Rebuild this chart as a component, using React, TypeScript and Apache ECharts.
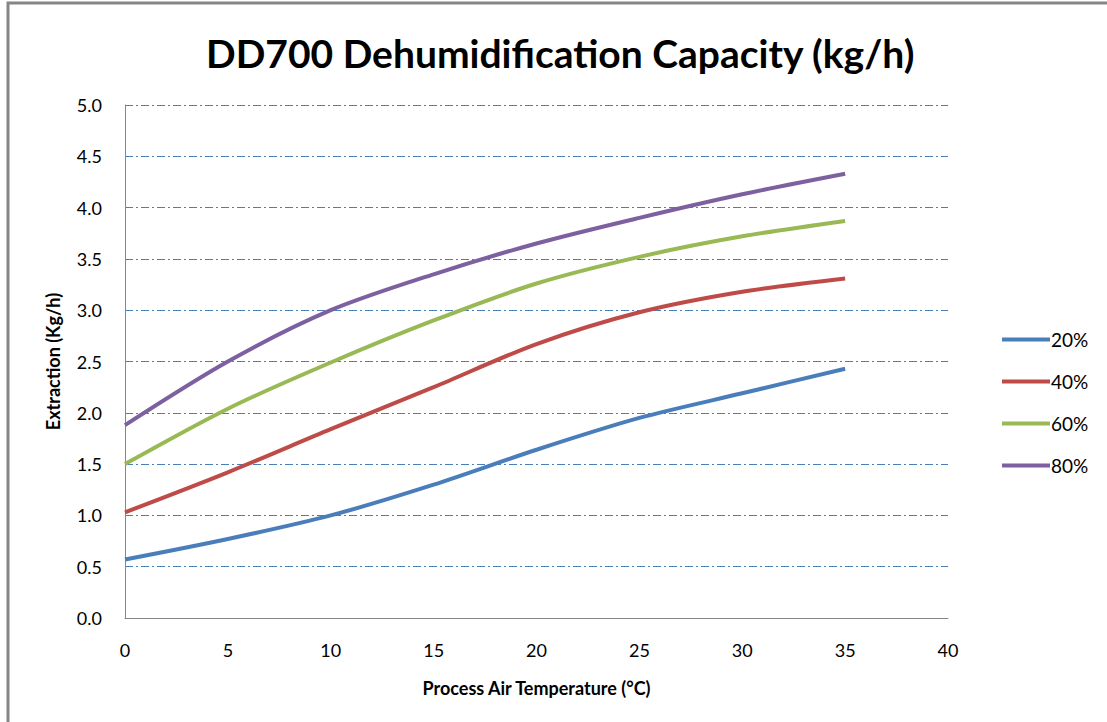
import React, { useEffect, useRef } from "react";
import * as echarts from "echarts";

const temps = [0, 5, 10, 15, 20, 25, 30, 35];
const rh20 = [0.57, 0.77, 1.0, 1.3, 1.64, 1.95, 2.19, 2.43];
const rh40 = [1.03, 1.42, 1.84, 2.25, 2.67, 2.98, 3.18, 3.31];
const rh60 = [1.5, 2.04, 2.49, 2.9, 3.26, 3.52, 3.72, 3.87];
const rh80 = [1.88, 2.5, 3.0, 3.35, 3.65, 3.9, 4.13, 4.33];
const seriesNames = ["20%", "40%", "60%", "80%"];
const colors = ["#4a7ebb", "#be4b48", "#98b954", "#7d60a0"];

const FONT = "Lato, 'Open Sans', sans-serif";

export default function App() {
  const ref = useRef<HTMLDivElement>(null);
  useEffect(() => {
    if (!ref.current) return;
    const chart = echarts.init(ref.current, null, { renderer: "svg" });
    const all = [rh20, rh40, rh60, rh80];
    chart.setOption({
      animation: false,
      backgroundColor: "#ffffff",
      title: {
        text: "DD700 Dehumidification Capacity (kg/h)",
        left: 201,
        top: 28,
        textStyle: { fontFamily: FONT, fontSize: 39, fontWeight: "bold", color: "#000" },
      },
      legend: {
        orient: "vertical",
        left: 997,
        top: 325,
        itemGap: 23,
        itemWidth: 48,
        itemHeight: 4,
        icon: "rect",
        data: seriesNames,
        textStyle: { fontFamily: FONT, fontSize: 19, color: "#000", padding: [0, 0, 0, -4] },
      },
      grid: { left: 125, right: 159, top: 105, bottom: 104, containLabel: false },
      xAxis: {
        type: "value",
        min: 0,
        max: 40,
        interval: 5,
        name: "Process Air Temperature (°C)",
        nameLocation: "middle",
        nameGap: 61,
        nameTextStyle: { fontFamily: FONT, fontSize: 18, fontWeight: "bold", color: "#000" },
        axisLine: { show: true, lineStyle: { color: "#868686", width: 1 } },
        axisTick: { show: false },
        splitLine: { show: false },
        axisLabel: { margin: 23, fontFamily: FONT, fontSize: 18, color: "#000" },
      },
      yAxis: {
        type: "value",
        min: 0,
        max: 5,
        interval: 0.5,
        name: "Extraction (Kg/h)",
        nameLocation: "middle",
        nameGap: 63,
        nameTextStyle: { fontFamily: FONT, fontSize: 18, fontWeight: "bold", color: "#000" },
        axisLine: { show: true, lineStyle: { color: "#868686", width: 1 } },
        axisTick: { show: false },
        splitLine: { show: true, lineStyle: { color: "#4a7ebb", width: 1, type: [8, 3, 2, 3] } },
        axisLabel: {
          margin: 23,
          fontFamily: FONT,
          fontSize: 18,
          color: "#000",
          formatter: (v: number) => v.toFixed(1),
        },
      },
      graphic: [
        {
          type: "polyline",
          shape: { points: [[8, 722], [8, 3], [1107, 3]] },
          style: { stroke: "#868686", lineWidth: 3, fill: "none" },
          silent: true,
        },
      ],
      series: all.map((vals, i) => ({
        name: seriesNames[i],
        type: "line",
        smooth: 0.3,
        showSymbol: false,
        symbol: "none",
        color: colors[i],
        lineStyle: { width: 4, color: colors[i] },
        data: temps.map((t, j) => [t, vals[j]]),
      })),
    });
    return () => chart.dispose();
  }, []);
  return (
    <div
      ref={ref}
      style={{ position: "absolute", left: 0, top: 0, width: 1107, height: 722 }}
    />
  );
}
